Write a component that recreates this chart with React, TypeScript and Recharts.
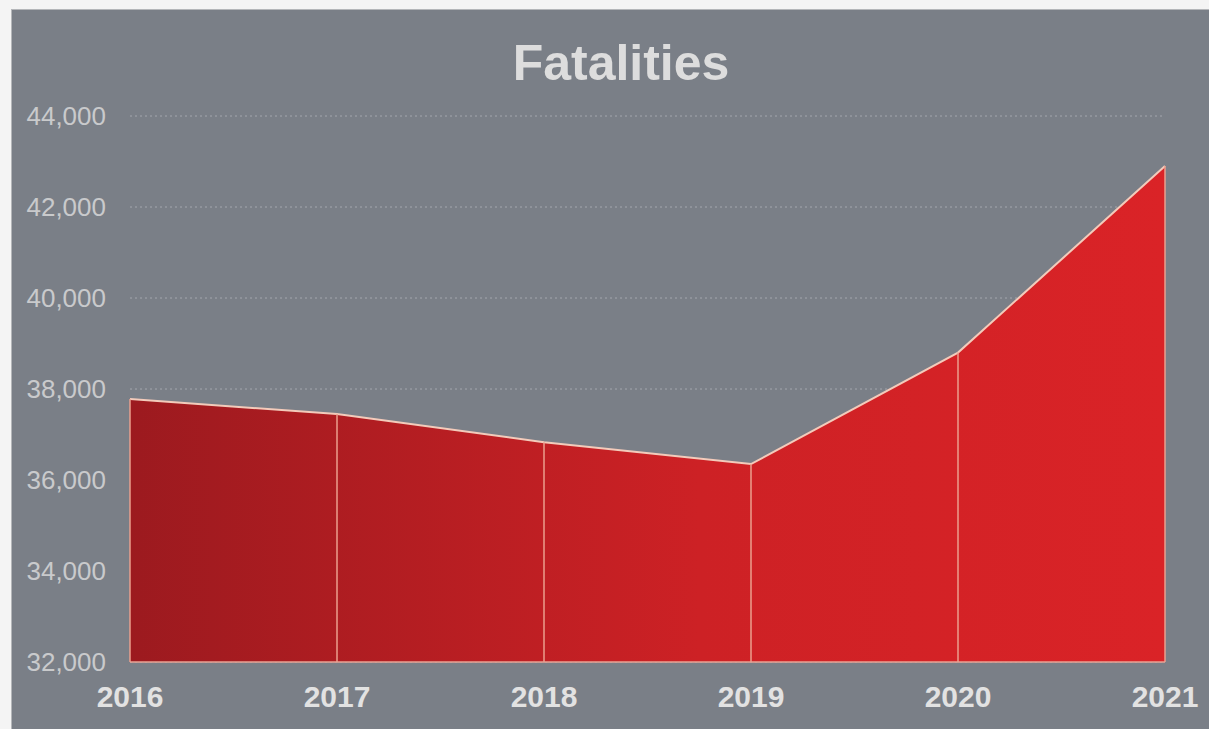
import { AreaChart, Area, XAxis, YAxis, CartesianGrid, ReferenceLine } from 'recharts'

const years = ['2016', '2017', '2018', '2019', '2020', '2021']
const fatalities = [37780, 37450, 36830, 36350, 38800, 42900]
const yTicks = [32000, 34000, 36000, 38000, 40000, 42000, 44000]

const data = years.map((year, i) => ({ year, fatalities: fatalities[i] }))

const FONT = '"Liberation Sans", Arial, Helvetica, sans-serif'

export default function App() {
  return (
    <div
      style={{
        position: 'fixed',
        left: 0,
        top: 0,
        right: 0,
        bottom: 0,
        background: '#f4f4f4',
        overflow: 'hidden',
        fontFamily: FONT,
      }}
    >
      {/* gray panel, runs off the right and bottom edge */}
      <div
        style={{
          position: 'absolute',
          left: 11,
          top: 9,
          width: 1240,
          height: 760,
          background: '#7a7f87',
          borderLeft: '1px solid #b4b6b9',
          borderTop: '1px solid #b4b6b9',
        }}
      >
        <div
          style={{
            position: 'absolute',
            left: 0,
            width: 1218,
            top: 28,
            textAlign: 'center',
            fontSize: 50,
            fontWeight: 'bold',
            color: '#dddddd',
            lineHeight: '50px',
          }}
        >
          Fatalities
        </div>
        <AreaChart
          width={1197}
          height={719}
          data={data}
          margin={{ top: 106, right: 44, left: 0, bottom: 0 }}
        >
          <defs>
            <linearGradient id="redFill" x1="0" y1="0" x2="1" y2="0">
              <stop offset="0%" stopColor="#9c1a1f" />
              <stop offset="55%" stopColor="#cd2125" />
              <stop offset="100%" stopColor="#da2327" />
            </linearGradient>
          </defs>
          <CartesianGrid
            vertical={false}
            stroke="#a3a7ad"
            strokeDasharray="2 3"
          />
          <XAxis
            dataKey="year"
            height={67}
            tickSize={0}
            tickMargin={24}
            axisLine={{ stroke: '#e9a394', strokeWidth: 1.5 }}
            tickLine={false}
            tick={{ fontSize: 30, fontWeight: 'bold', fill: '#e2e2e2', fontFamily: FONT }}
            interval={0}
          />
          <YAxis
            domain={[32000, 44000]}
            ticks={yTicks}
            width={118}
            tickSize={0}
            tickMargin={24}
            axisLine={false}
            tickLine={false}
            tickFormatter={(v) => Number(v).toLocaleString('en-US')}
            tick={{ fontSize: 26, fill: '#c9cacc', fontFamily: FONT }}
          />
          <Area
            type="linear"
            dataKey="fatalities"
            stroke="#f3cbbb"
            strokeWidth={2}
            fill="url(#redFill)"
            fillOpacity={1}
            isAnimationActive={false}
          />
          {data.map((d) => (
            <ReferenceLine
              key={d.year}
              segment={[
                { x: d.year, y: 32000 },
                { x: d.year, y: d.fatalities },
              ]}
              stroke="#eb9f8e"
              strokeWidth={1.5}
            />
          ))}
        </AreaChart>
      </div>
    </div>
  )
}
